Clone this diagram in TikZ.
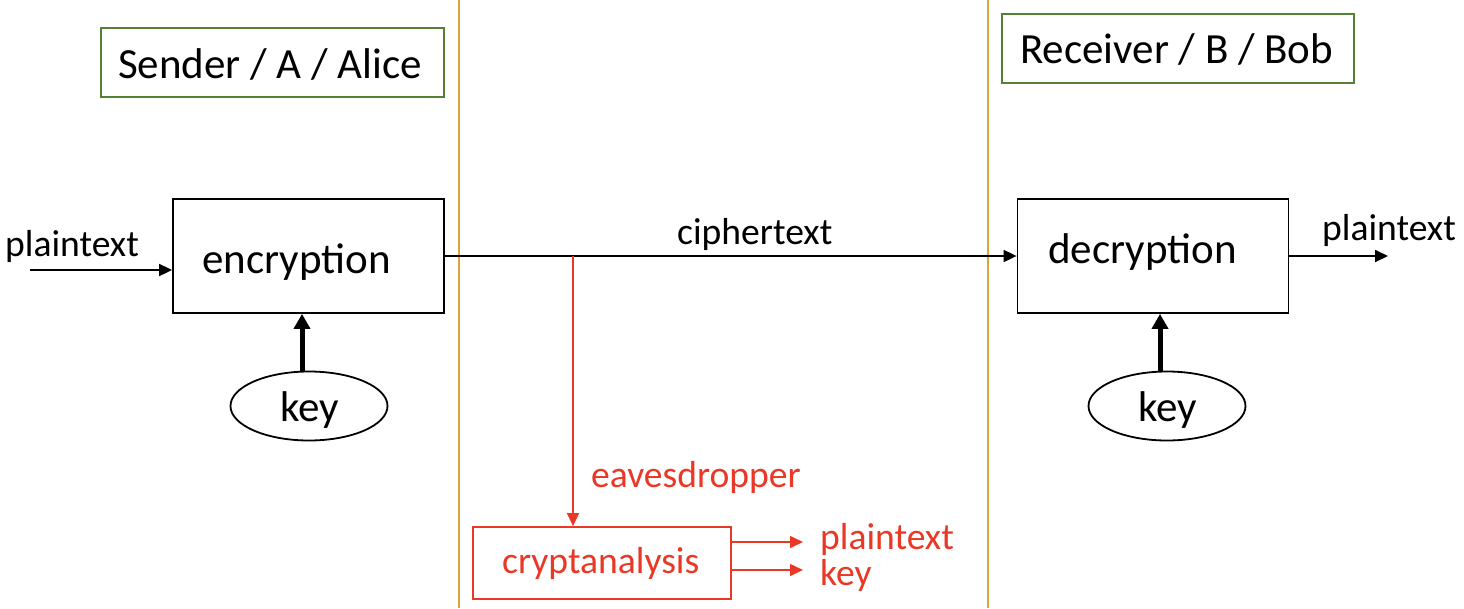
\documentclass[tikz,border=0pt]{standalone}
\usepackage{fontspec}
\setmainfont{Carlito}
\usetikzlibrary{arrows.meta,shapes.geometric,calc}
\definecolor{boxgreen}{RGB}{84,130,53}
\definecolor{divider}{RGB}{218,165,60}
\definecolor{evered}{RGB}{234,56,38}
\tikzset{
  big/.style={font=\fontsize{43}{50}\selectfont, inner sep=0pt, anchor=base west},
  lbl/.style={font=\fontsize{37.6}{44}\selectfont, inner sep=0pt, anchor=base west},
  procbox/.style={draw=black, line width=1.8pt, minimum width=271pt, minimum height=114pt, inner sep=0pt},
  rolebox/.style={draw=boxgreen, line width=2.2pt, inner sep=0pt},
  keyell/.style={draw=black, line width=1.8pt, ellipse, minimum width=157pt, minimum height=69pt, inner sep=0pt},
  thinarrow/.style={line width=1.8pt, -{Triangle[length=13pt,width=12pt]}},
  thickarrow/.style={line width=5pt, -{Triangle[length=15pt,width=16pt]}},
  divline/.style={draw=divider, line width=1.6pt},
}
\begin{document}
\begin{tikzpicture}[x=1pt,y=-1pt]
\useasboundingbox[fill=white] (0,0) rectangle (1464,608);
% dividers
\draw[divline] (459,0) -- (459,608);
\draw[divline] (988,0) -- (988,608);
% role boxes
\node[rolebox, minimum width=343pt, minimum height=69pt] (sendbox) at (272.5,62.5) {};
\node[big] (sendtxt) at (118,78) {Sender / A / Alice};
\node[rolebox, minimum width=352pt, minimum height=69pt] (recvbox) at (1178,48.5) {};
\node[big] (recvtxt) at (1020,63) {Receiver / B / Bob};
% process boxes
\node[procbox] (enc) at (308.5,256) {};
\node[big] (enctxt) at (202,273) {encryption};
\node[procbox] (dec) at (1153,256) {};
\node[big] (dectxt) at (1048,263) {decryption};
% keys
\node[keyell] (keyL) at (309,406) {};
\node[big] (keyLtxt) at (280,421) {key};
\node[keyell] (keyR) at (1167,406) {};
\node[big] (keyRtxt) at (1138,421) {key};
\draw[thickarrow] ([xshift=-7pt]keyL.north) -- ([xshift=-7pt]keyL.north |- enc.south);
\draw[thickarrow] ([xshift=-7pt]keyR.north) -- ([xshift=-7pt]keyR.north |- dec.south);
% plaintext in/out
\node[lbl] (ptin) at (5,256) {plaintext};
\coordinate (inL) at (30,270);
\draw[thinarrow] (inL) -- (inL -| enc.west);
\node[lbl] (ptout) at (1322,240) {plaintext};
\coordinate (outR) at (1388,256);
\draw[thinarrow] (dec.east) -- (outR);
% ciphertext
\draw[thinarrow] (enc.east) -- (dec.west);
\node[lbl] (ctxt) at (677,244) {ciphertext};
% eavesdropper
\node[draw=evered, line width=1.8pt, minimum width=258pt, minimum height=72pt, inner sep=0pt] (crypt) at (602,563) {};
\node[lbl, text=evered] (crypttxt) at (502,573) {cryptanalysis};
\coordinate (tap) at (573,256);
\draw[thinarrow, draw=evered, fill=evered, line width=1.6pt] (tap) -- (tap |- crypt.north);
\node[lbl, text=evered] (eaves) at (591,487) {eavesdropper};
\coordinate (outP) at (803,542);
\coordinate (outK) at (803,570);
\draw[thinarrow, draw=evered, fill=evered, line width=1.6pt] (outP -| crypt.east) -- (outP);
\draw[thinarrow, draw=evered, fill=evered, line width=1.6pt] (outK -| crypt.east) -- (outK);
\node[lbl, text=evered] (ptred) at (820,549) {plaintext};
\node[lbl, text=evered] (keyred) at (820,585) {key};
\end{tikzpicture}
\end{document}
